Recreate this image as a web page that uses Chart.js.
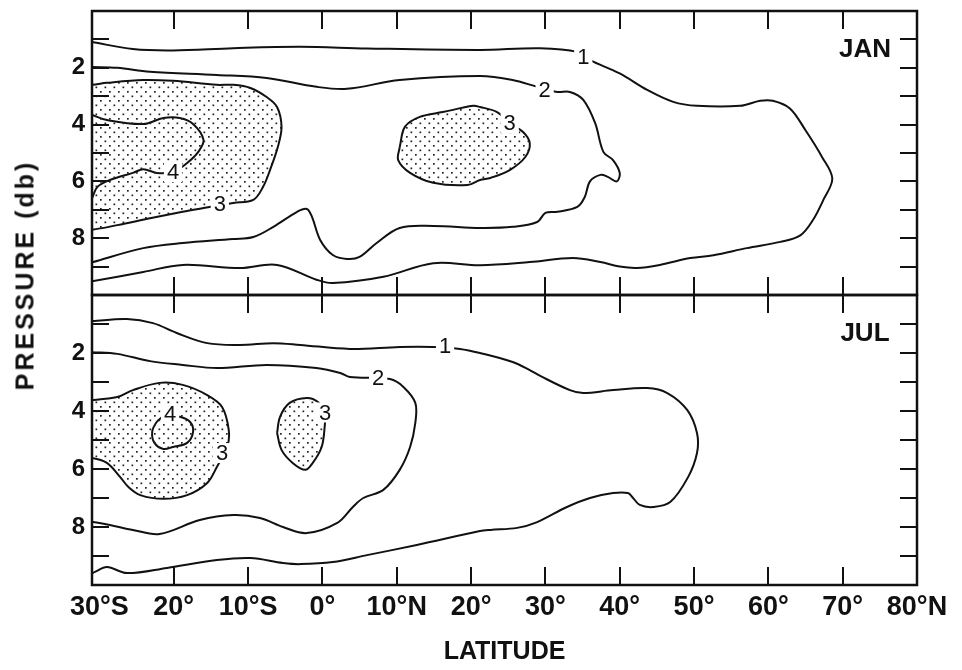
<!DOCTYPE html>
<html>
<head>
<meta charset="utf-8">
<script src="https://cdn.jsdelivr.net/npm/chart.js@4/dist/chart.umd.min.js"></script>
<style>
  html, body { margin: 0; padding: 0; background: #fff; }
  #wrap { position: relative; width: 962px; height: 670px; }
  #ytitle {
    position: absolute; left: 25px; top: 275px;
    transform: translate(-50%, -50%) rotate(-90deg);
    font: bold 25px 'Liberation Sans', Arial, Helvetica, sans-serif;
    letter-spacing: 3px; white-space: nowrap; color: #111;
  }
</style>
</head>
<body>
<div id="wrap">
  <canvas id="chart" width="962" height="670"></canvas>
  <div id="ytitle">PRESSURE (db)</div>
</div>
<script>
// ── Axis ticks ────────────────────────────────────────────────────────────────
const latTicks  = [-30, -20, -10, 0, 10, 20, 30, 40, 50, 60, 70, 80];
const latLabels = ['30°S', '20°', '10°S', '0°', '10°N', '20°', '30°', '40°', '50°', '60°', '70°', '80°N'];
const presLabelTicks = [2, 4, 6, 8];
const presMinorTicks = [1, 2, 3, 4, 5, 6, 7, 8, 9];

// ── JAN contours [latitude, pressure] ─────────────────────────────────────────
const jan1 = [[-31,1.09],[-25.5,1.34],[-20.1,1.39],[-12,1.31],[-3,1.26],[6,1.32],[21.2,1.37],[29.3,1.31],
  [34.3,1.44],[36,1.73],[40,2.2],[43.7,2.78],[47.2,3.2],[50.4,3.34],[56.2,3.34],[58.9,3.16],[60.6,3.16],
  [62.9,3.43],[65,4.2],[67.2,5.13],[68.6,5.9],[67.4,6.65],[66,7.36],[64.3,7.9],[61.6,8.13],[57.1,8.35],
  [52.6,8.6],[49.5,8.7],[45.4,8.94],[42.3,9.05],[40,9.0],[37.4,8.84],[33.7,8.7],[27.9,8.84],[21.2,8.95],
  [14.9,8.88],[8.2,9.36],[1.4,9.58],[-0.7,9.47],[-6.1,8.94],[-11.1,9.05],[-18.8,8.94],[-24.1,9.19],[-31,9.52]];
const jan2 = [[-31,1.97],[-27.6,2.0],[-23.2,2.14],[-14.2,2.25],[-7.5,2.36],[-0.8,2.67],[3.3,2.74],[10.4,2.43],
  [21.2,2.29],[25.6,2.43],[28.9,2.67],[31.6,2.85],[33.3,2.85],[35.1,3.13],[36.7,3.95],[37.8,4.96],[39.1,5.25],
  [40,5.7],[39.6,6.0],[38.4,5.84],[37.4,5.77],[36,6.0],[35.3,6.55],[34.3,6.9],[31.6,7.07],[30,7.11],
  [28.9,7.43],[25.6,7.6],[21.2,7.64],[14.9,7.57],[10.4,7.64],[7.3,8.17],[5.0,8.66],[3.3,8.73],[1.4,8.59],
  [-0.3,8.06],[-1.4,7.25],[-2.1,6.97],[-3.4,7.07],[-6.6,7.6],[-9.3,7.96],[-12,8.03],[-18.8,8.17],
  [-24.1,8.35],[-31,8.85]];
const jan3West = [[-33,2.6],[-31,2.6],[-29,2.53],[-24.1,2.43],[-20.1,2.46],[-14.2,2.6],[-12,2.6],[-9.7,2.71],
  [-7.5,3.03],[-6.1,3.38],[-5.5,4.08],[-6,4.79],[-7.05,5.6],[-8,6.2],[-9.3,6.65],[-12,6.76],[-16,6.94],
  [-18.8,7.07],[-23.2,7.3],[-27.6,7.54],[-31,7.7],[-33,7.7],[-33,2.6]];
const jan3Mid = [[10.4,4.79],[11.1,4.08],[13.1,3.73],[16.2,3.56],[20.3,3.34],[21.2,3.38],[23.5,3.56],
  [25.2,3.95],[27,4.26],[27.9,4.65],[27.3,5.14],[25.2,5.6],[22.6,5.88],[21.2,5.95],[19.5,6.13],[14.9,6.05],
  [11.8,5.7],[10.2,5.25],[10.4,4.79]];
const jan4 = [[-31,3.66],[-29,3.84],[-24.1,3.98],[-21.4,3.77],[-19.2,3.77],[-17.4,3.98],[-16,4.54],
  [-16.7,4.96],[-18.2,5.35],[-20.1,5.67],[-22.3,5.7],[-24.1,5.57],[-25.5,5.7],[-28.6,5.95],[-30.3,6.2],[-31,6.6]];

// ── JUL contours [latitude, pressure] ─────────────────────────────────────────
const jul1 = [[-31,0.9],[-26.3,0.83],[-22.8,0.97],[-19.6,1.31],[-15.5,1.66],[-11.1,1.72],[-6.6,1.66],[-3,1.72],
  [3.7,1.86],[10.4,1.79],[14.9,1.79],[18.5,1.86],[21.2,2.0],[25.6,2.31],[27.9,2.59],[29.3,2.79],[33.3,3.28],
  [35.1,3.38],[39.1,3.28],[43.7,3.21],[46.4,3.38],[49.1,3.97],[50.4,4.76],[50.4,5.45],[49.2,6.28],[46.8,7.14],
  [44.5,7.31],[42.7,7.24],[41.8,7.0],[41.1,6.83],[39.1,6.83],[36,7.0],[32.9,7.31],[28.9,7.83],[26.2,8.03],
  [22.6,8.1],[21.2,8.14],[12.7,8.62],[6,8.97],[1.4,9.21],[-3,9.28],[-5.3,9.24],[-9.7,9.07],[-14.2,9.14],
  [-20.9,9.41],[-26.3,9.59],[-29,9.38],[-30.6,9.55],[-31,9.6]];
const jul2 = [[-31,1.97],[-27.6,2.03],[-23.2,2.28],[-18.8,2.41],[-14.2,2.52],[-7.5,2.41],[-0.8,2.52],[2.4,2.69],
  [3.7,2.83],[9.1,2.9],[10.9,3.17],[12.5,3.72],[12.5,4.41],[11.8,5.24],[10.4,6.03],[8.2,6.72],[5.5,7.0],
  [4.1,7.31],[2,7.86],[-2.1,8.21],[-5.3,8.0],[-8.4,7.69],[-12,7.59],[-16.5,7.76],[-21.9,8.24],[-25.5,8.1],
  [-28.6,7.93],[-31,7.82]];
const jul3West = [[-33,3.62],[-31,3.62],[-27.6,3.52],[-25.5,3.28],[-21.9,3.03],[-18.8,3.1],[-15.5,3.45],
  [-13.5,3.86],[-12.6,4.66],[-12.8,5.24],[-14.2,5.93],[-15.5,6.48],[-18.2,6.9],[-21.4,7.03],[-24.5,6.9],
  [-26.1,6.62],[-27.2,6.28],[-29,5.79],[-31,5.62],[-33,5.62],[-33,3.62]];
const jul3Mid = [[-6.1,4.76],[-5.7,4.2],[-4.4,3.72],[-2.1,3.55],[-0.6,3.69],[0.3,4.07],[0.3,4.55],[-0.1,5.24],
  [-1.3,5.79],[-2.3,6.03],[-4,5.79],[-5.5,5.34],[-6.1,4.76]];
const jul4 = [[-21.4,4.17],[-19.2,4.2],[-17.8,4.38],[-17.4,4.72],[-18.2,5.1],[-20.1,5.24],[-21.4,5.31],
  [-22.6,5.1],[-22.9,4.72],[-22.3,4.38],[-21.4,4.17]];

// contour value labels: [axis, latitude, pressure, text]
const contourLabels = [
  ['yJan', 35.1, 1.62, '1'], ['yJan', 29.9, 2.78, '2'], ['yJan', 25.2, 3.95, '3'],
  ['yJan', -13.8, 6.78, '3'], ['yJan', -20.1, 5.67, '4'],
  ['yJul', 16.5, 1.76, '1'], ['yJul', 7.5, 2.86, '2'], ['yJul', 0.35, 4.05, '3'],
  ['yJul', -13.5, 5.45, '3'], ['yJul', -20.5, 4.1, '4'],
];
const panelNames = [['yJan', 'JAN'], ['yJul', 'JUL']];

const FONT = "'Liberation Sans', Arial, Helvetica, sans-serif";

function makeStipple() {
  const c = document.createElement('canvas');
  c.width = 9; c.height = 9;
  const g = c.getContext('2d');
  g.fillStyle = '#222';
  g.fillRect(1, 1, 1.7, 1.7);
  g.fillRect(5.5, 5.5, 1.7, 1.7);
  return g.createPattern(c, 'repeat');
}
const stipple = makeStipple();

function contour(data, axis, filled) {
  return {
    data, yAxisID: axis, showLine: true,
    borderColor: '#111', borderWidth: 2, tension: 0.35,
    pointRadius: 0, pointHoverRadius: 0,
    fill: filled ? 'shape' : false,
    backgroundColor: filled ? stipple : 'transparent',
  };
}

// ── Frame, inward ticks, contour labels, panel names ──────────────────────────
const framePlugin = {
  id: 'frame',
  afterDatasetsDraw(chart) {
    const { ctx } = chart;
    const xs = chart.scales.x;
    ctx.save();

    ctx.font = `22px ${FONT}`;
    ctx.textAlign = 'center';
    ctx.textBaseline = 'middle';
    for (const [axis, lat, p, txt] of contourLabels) {
      const px = xs.getPixelForValue(lat);
      const py = chart.scales[axis].getPixelForValue(p);
      const w = ctx.measureText(txt).width + 6;
      ctx.fillStyle = '#fff';
      ctx.fillRect(px - w / 2, py - 10, w, 20);
      ctx.fillStyle = '#111';
      ctx.fillText(txt, px, py + 1);
    }

    ctx.strokeStyle = '#111';
    for (const [axis, name] of panelNames) {
      const ys = chart.scales[axis];
      ctx.lineWidth = 2.5;
      ctx.strokeRect(xs.left, ys.top, xs.right - xs.left, ys.bottom - ys.top);
      ctx.lineWidth = 2;
      ctx.beginPath();
      for (const v of latTicks) {
        if (v <= -30 || v >= 80) continue;
        const px = Math.round(xs.getPixelForValue(v));
        ctx.moveTo(px, ys.top); ctx.lineTo(px, ys.top + 18);
        ctx.moveTo(px, ys.bottom); ctx.lineTo(px, ys.bottom - 18);
      }
      for (const v of presMinorTicks) {
        const py = Math.round(ys.getPixelForValue(v));
        ctx.moveTo(xs.left, py); ctx.lineTo(xs.left + 17, py);
        ctx.moveTo(xs.right, py); ctx.lineTo(xs.right - 17, py);
      }
      ctx.stroke();

      ctx.font = `bold 26px ${FONT}`;
      ctx.fillStyle = '#111';
      ctx.fillText(name, xs.getPixelForValue(73), ys.getPixelForValue(1.35));
    }
    ctx.restore();
  }
};

function presAxis(weight) {
  return {
    type: 'linear', min: 0, max: 10, reverse: true,
    position: 'left', stack: 'pres', stackWeight: weight,
    afterBuildTicks: s => { s.ticks = presLabelTicks.map(v => ({ value: v })); },
    // fixed width, and no extra room for half-labels at the ends
    afterFit: s => { s.width = 92; s.paddingTop = 0; s.paddingBottom = 0; },
    ticks: { color: '#111', padding: 7, font: { family: FONT, size: 24, weight: 'bold' } },
    grid: { display: false, drawTicks: false },
    border: { display: false },
  };
}

new Chart(document.getElementById('chart'), {
  type: 'scatter',
  data: {
    datasets: [
      contour(jan3West, 'yJan', true),
      contour(jan3Mid, 'yJan', true),
      contour(jan1, 'yJan', false),
      contour(jan2, 'yJan', false),
      contour(jan4, 'yJan', false),
      contour(jul3West, 'yJul', true),
      contour(jul3Mid, 'yJul', true),
      contour(jul1, 'yJul', false),
      contour(jul2, 'yJul', false),
      contour(jul4, 'yJul', false),
    ]
  },
  options: {
    responsive: false,
    animation: false,
    layout: { padding: { top: 11, right: 45, left: 0, bottom: 0 } },
    plugins: { legend: { display: false }, tooltip: { enabled: false } },
    scales: {
      x: {
        type: 'linear', min: -31, max: 80,
        afterBuildTicks: s => { s.ticks = latTicks.map(v => ({ value: v })); },
        afterFit: s => { s.height = 85; },
        ticks: {
          color: '#111', padding: 6, maxRotation: 0, autoSkip: false,
          font: { family: FONT, size: 27, weight: 'bold' },
          callback: v => latLabels[latTicks.indexOf(v)],
        },
        grid: { display: false, drawTicks: false },
        border: { display: false },
        title: {
          display: true, text: 'LATITUDE', color: '#111',
          font: { family: FONT, size: 25, weight: 'bold' },
          padding: { top: 0, bottom: 3 },
        },
      },
      yJul: presAxis(290),
      yJan: presAxis(284),
    }
  },
  plugins: [framePlugin]
});
</script>
</body>
</html>
